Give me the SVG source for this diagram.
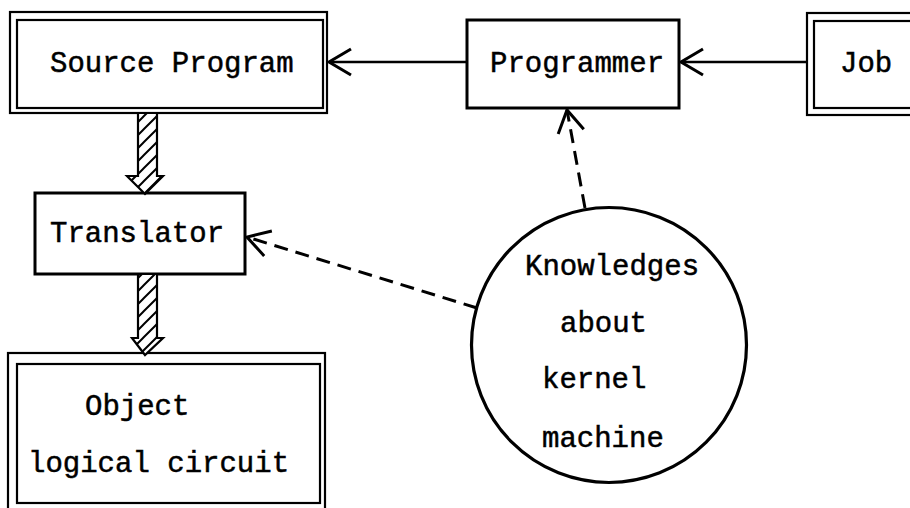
<svg xmlns="http://www.w3.org/2000/svg" width="910" height="508" viewBox="0 0 910 508">
  <style>
    .box { fill: #fff; stroke: #000; stroke-width: 3; }
    .frame { fill: none; stroke: #000; stroke-width: 2.2; }
    .lbl { font-family: "Liberation Mono", "DejaVu Sans Mono", monospace; font-size: 29px; fill: #000; stroke: #000; stroke-width: 0.5; }
    .link { fill: none; stroke: #000; stroke-width: 2.5; }
    .dash { stroke-dasharray: 14 8; stroke-width: 3; }
    .flow { fill: url(#hatch); stroke: #000; stroke-width: 2.2; stroke-linejoin: miter; }
  </style>
  <defs>
    <marker id="vhead" viewBox="-26 -16 30 32" refX="0" refY="0" markerWidth="30" markerHeight="32" markerUnits="userSpaceOnUse" orient="auto" overflow="visible">
      <path d="M-22,-13 L0,0 L-22,13" fill="none" stroke="#000" stroke-width="3" stroke-dasharray="none"/>
    </marker>
    <pattern id="hatch" patternUnits="userSpaceOnUse" width="13" height="13">
      <rect width="13" height="13" fill="#fff"/>
      <path d="M0,13 L13,0 M-2,2 L2,-2 M11,15 L15,11" stroke="#000" stroke-width="2"/>
    </pattern>
  </defs>

  <!-- Source Program (double frame) -->
  <g id="source-program">
    <rect class="frame" x="10" y="12" width="317" height="101"/>
    <rect class="frame" x="17" y="20" width="306" height="88"/>
    <text class="lbl" x="50" y="72">Source Program</text>
  </g>

  <!-- Programmer -->
  <g id="programmer">
    <rect class="box" x="467" y="20" width="212" height="88"/>
    <text class="lbl" x="490" y="72">Programmer</text>
  </g>

  <!-- Job (double frame, runs off the right edge) -->
  <g id="job">
    <rect class="frame" x="807" y="13" width="120" height="102"/>
    <rect class="frame" x="814" y="21" width="110" height="87"/>
    <text class="lbl" x="840" y="72">Job</text>
  </g>

  <!-- Translator -->
  <g id="translator">
    <rect class="box" x="35" y="193" width="210" height="81"/>
    <text class="lbl" x="50" y="242">Translator</text>
  </g>

  <!-- Object logical circuit (double frame) -->
  <g id="object-circuit">
    <rect class="frame" x="8" y="353" width="317" height="160"/>
    <rect class="frame" x="17" y="364" width="303" height="139"/>
    <text class="lbl" x="85" y="415">Object</text>
    <text class="lbl" x="28" y="472">logical circuit</text>
  </g>

  <!-- Knowledges about kernel machine -->
  <g id="knowledge">
    <circle cx="609" cy="345" r="137.5" fill="#fff" stroke="#000" stroke-width="3.2"/>
    <text class="lbl" x="525" y="275">Knowledges</text>
    <text class="lbl" x="560" y="332">about</text>
    <text class="lbl" x="542" y="388">kernel</text>
    <text class="lbl" x="542" y="447">machine</text>
  </g>

  <!-- Connectors -->
  <g id="connectors">
    <!-- Programmer to Source Program -->
    <path class="link" d="M467,62 L329,62" marker-end="url(#vhead)"/>
    <!-- Job to Programmer -->
    <path class="link" d="M807,62 L681,62" marker-end="url(#vhead)"/>
    <!-- Knowledge to Programmer -->
    <path class="link dash" d="M585,208 L567,110" marker-end="url(#vhead)"/>
    <!-- Knowledge to Translator -->
    <path class="link dash" d="M477,308 L247,237" marker-end="url(#vhead)"/>
    <!-- Hatched flow: Source Program to Translator -->
    <path class="flow" d="M138,113 L157,113 L157,176 L163,176 L145,194 L127,176 L138,176 Z"/>
    <!-- Hatched flow: Translator to Object -->
    <path class="flow" d="M138,274 L157,274 L157,338 L163,338 L145,355 L132,338 L138,338 Z"/>
  </g>
</svg>
